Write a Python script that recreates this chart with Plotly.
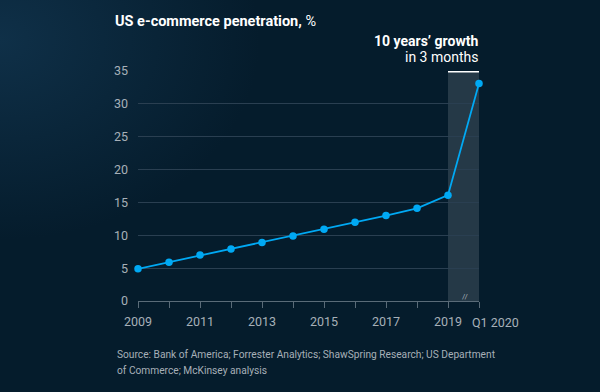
import base64
import plotly.graph_objects as go

years = [2009, 2010, 2011, 2012, 2013, 2014, 2015, 2016, 2017, 2018, 2019, 2020]
penetration = [4.9, 5.9, 7.0, 7.9, 8.9, 9.9, 10.9, 12.0, 13.0, 14.1, 16.1, 33.1]
tick_labels = ["2009", "", "2011", "", "2013", "", "2015", "", "2017", "", "2019", ""]
last_label = "Q1 2020"
y_ticks = [0, 5, 10, 15, 20, 25, 30, 35]

BG = "#051C2C"
CYAN = "#00A9F4"
GRID = "#2a3f51"
TXT = "#a7b0b8"
FONT = "Roboto"

W, H = 600, 392
ML, MR, MT, MB = 138, 121, 71, 91
PW, PH = W - ML - MR, H - MT - MB

svg = f"""<svg xmlns='http://www.w3.org/2000/svg' width='{W}' height='{H}' viewBox='0 0 {W} {H}'>
<defs><radialGradient id='g' cx='0' cy='0' r='1' gradientUnits='userSpaceOnUse'
 gradientTransform='translate(0 40) scale(260 200)'>
<stop offset='0' stop-color='#0f3048'/><stop offset='1' stop-color='{BG}'/></radialGradient></defs>
<rect width='{W}' height='{H}' fill='{BG}'/><rect width='{W}' height='{H}' fill='url(#g)'/></svg>"""
bg_src = "data:image/svg+xml;base64," + base64.b64encode(svg.encode()).decode()

fig = go.Figure()

fig.add_trace(go.Scatter(
    x=years, y=penetration, mode="lines+markers",
    line=dict(color=CYAN, width=1.8),
    marker=dict(color=CYAN, size=7.5),
    cliponaxis=False, hoverinfo="skip", showlegend=False,
))

fig.add_shape(type="rect", xref="x", yref="y", x0=years[-2], x1=years[-1], y0=0, y1=35,
              fillcolor="rgba(255,255,255,0.13)", line_width=0, layer="below")
fig.add_shape(type="line", xref="x", yref="y", x0=years[-2], x1=years[-1], y0=35, y1=35,
              line=dict(color="white", width=3))

fig.add_layout_image(source=bg_src, xref="paper", yref="paper",
                     x=-ML / PW, y=1 + MT / PH, sizex=W / PW, sizey=H / PH,
                     xanchor="left", yanchor="top", sizing="stretch", layer="below")

fig.update_layout(
    width=W, height=H,
    paper_bgcolor=BG, plot_bgcolor="rgba(0,0,0,0)",
    margin=dict(l=ML, r=MR, t=MT, b=MB),
    title=dict(text="<b>US e-commerce penetration,</b> %", x=115 / W, xanchor="left",
               y=1 - 21 / H, yanchor="middle",
               font=dict(family=FONT, size=14.5, color="white")),
    xaxis=dict(range=[2009, 2020], tickvals=years, ticktext=tick_labels, tickangle=0,
               showgrid=False, zeroline=False, showline=True, linecolor="#5a6b78", linewidth=1,
               ticks="outside", ticklen=6, tickcolor="#5a6b78", ticklabelstandoff=3,
               tickfont=dict(family=FONT, size=12.5, color=TXT)),
    yaxis=dict(range=[0, 35], tickvals=y_ticks, showgrid=True, gridcolor=GRID, gridwidth=1,
               zeroline=False, ticks="", ticklabelstandoff=9,
               tickfont=dict(family=FONT, size=12.5, color=TXT)),
)

fig.add_annotation(x=years[-1], y=-(322 - MT - PH) / PH, xref="x", yref="paper",
                   xanchor="left", yanchor="middle", xshift=-9, text=last_label, showarrow=False,
                   font=dict(family=FONT, size=12.5, color=TXT))
fig.add_annotation(x=2019.55, y=0, xref="x", yref="y", text="//", showarrow=False,
                   font=dict(family=FONT, size=8, color=TXT), yshift=5)
fig.add_annotation(x=1, y=1 + 30 / PH, xref="paper", yref="paper", xanchor="right", yanchor="middle",
                   text="<b>10 years’ growth</b>", showarrow=False, xshift=1,
                   font=dict(family=FONT, size=14, color="white"))
fig.add_annotation(x=1, y=1 + 14 / PH, xref="paper", yref="paper", xanchor="right", yanchor="middle",
                   text="in 3 months", showarrow=False, xshift=1,
                   font=dict(family=FONT, size=14, color="white"))
src_x = (115 - ML) / PW
fig.add_annotation(x=src_x, y=-(354 - MT - PH) / PH, xref="paper", yref="paper",
                   xanchor="left", yanchor="middle",
                   text="Source: Bank of America; Forrester Analytics; ShawSpring Research; US Department",
                   showarrow=False, font=dict(family=FONT, size=10.2, color=TXT))
fig.add_annotation(x=src_x, y=-(370 - MT - PH) / PH, xref="paper", yref="paper",
                   xanchor="left", yanchor="middle",
                   text="of Commerce; McKinsey analysis",
                   showarrow=False, font=dict(family=FONT, size=10.2, color=TXT))

fig.write_html("out.html", config={"displayModeBar": False},
               post_script="document.body.style.margin='0';document.body.style.background='%s';" % BG)
